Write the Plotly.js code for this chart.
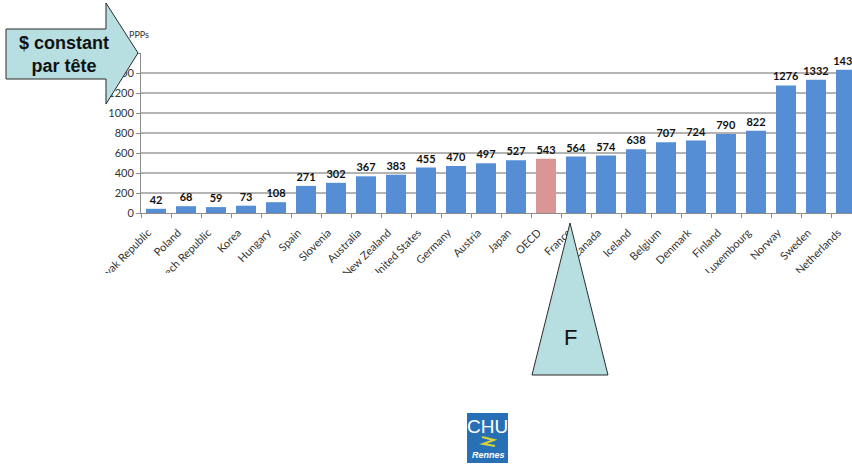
<!DOCTYPE html>
<html>
<head>
<meta charset="utf-8">
<script src="https://cdn.plot.ly/plotly-3.0.1.min.js"></script>
<style>html,body{margin:0;padding:0;background:#fff;}#chart{width:852px;height:464px;}</style>
</head>
<body>
<div id="chart"></div>
<script>
// ---- data ----
const countries = ["Slovak Republic","Poland","Czech Republic","Korea","Hungary","Spain","Slovenia","Australia","New Zealand","United States","Germany","Austria","Japan","OECD","France","Canada","Iceland","Belgium","Denmark","Finland","Luxembourg","Norway","Sweden","Netherlands"];
const values = [42,68,59,73,108,271,302,367,383,455,470,497,527,543,564,574,638,707,724,790,822,1276,1332,1433];
const highlight = "OECD";
const yTicks = [0,200,400,600,800,1000,1200,1400,1600];
const unitLabel = "PPPs";
const arrowText = "$ constant<br>par tête";
const triangleText = "F";

// ---- geometry helpers (pixel -> paper) ----
const L = 141, T = 53, W = 711, H = 160;
const px = x => (x - L) / W;
const py = y => (T + H - y) / H;
function pathOf(pts){
  return pts.map((p,i)=>(i?'L':'M')+px(p[0]).toFixed(5)+','+py(p[1]).toFixed(5)).join(' ')+' Z';
}

const colors = countries.map(c => c === highlight ? '#D99694' : '#558ED5');

const trace = {
  type: 'bar',
  x: countries,
  y: values,
  marker: {color: colors, line: {width: 0}},
  text: values.map(String),
  textposition: 'outside',
  constraintext: 'none',
  cliponaxis: false,
  textfont: {family: 'Lato, "DejaVu Sans", sans-serif', size: 11, color: '#111', weight: 'bold'},
  hoverinfo: 'none'
};

const shapeStyle = {fillcolor: '#B7DEE0', line: {color: '#2b2b2b', width: 1}};

const layout = {
  width: 852, height: 464, autosize: false,
  margin: {l: L, r: 852 - L - W, t: T, b: 464 - T - H, pad: 0},
  paper_bgcolor: '#fff', plot_bgcolor: '#fff',
  showlegend: false,
  bargap: 1/3,
  xaxis: {
    type: 'category',
    range: [-0.5, 23.2],
    showgrid: false,
    showline: true, linecolor: '#8c8c8c', linewidth: 1,
    ticks: 'outside', tickson: 'boundaries', ticklen: 4, tickcolor: '#8c8c8c',
    tickangle: -45,
    ticklabelstandoff: 8,
    ticklabelshift: -8,
    tickfont: {family: 'Lato, "DejaVu Sans", sans-serif', size: 11, color: '#333'},
    fixedrange: true
  },
  yaxis: {
    range: [0, 1600],
    tickvals: yTicks,
    ticktext: yTicks.map(String),
    showgrid: true, gridcolor: '#b4b4b4', gridwidth: 1.3,
    zeroline: false,
    showline: true, linecolor: '#8c8c8c', linewidth: 1,
    ticks: 'outside', ticklen: 4, tickcolor: '#8c8c8c',
    tickfont: {family: 'Lato, "DejaVu Sans", sans-serif', size: 11, color: '#333'},
    fixedrange: true
  },
  shapes: [
    // lower edge of the embedded chart frame (clips the long category labels)
    {type: 'rect', xref: 'paper', yref: 'paper', layer: 'above',
      x0: px(0), x1: px(852), y0: py(300), y1: py(273),
      fillcolor: '#ffffff', line: {width: 0}},
    Object.assign({type: 'path', xref: 'paper', yref: 'paper', layer: 'above',
      path: pathOf([[6,29],[106,29],[106,3],[138,53],[106,104],[106,79],[6,79]])}, shapeStyle),
    Object.assign({type: 'path', xref: 'paper', yref: 'paper', layer: 'above',
      path: pathOf([[570,223],[608,375],[532,375]])}, shapeStyle),
    {type: 'rect', xref: 'paper', yref: 'paper', layer: 'above',
      x0: px(467), x1: px(508), y0: py(413), y1: py(463),
      fillcolor: '#2870b5', line: {width: 0}},
    {type: 'path', xref: 'paper', yref: 'paper', layer: 'above',
      path: 'M'+px(482)+','+py(437)+' L'+px(494)+','+py(440)+' L'+px(483)+','+py(444)+' L'+px(495)+','+py(446),
      line: {color: '#d8d23a', width: 2}}
  ],
  annotations: [
    {xref: 'paper', yref: 'paper', x: px(64), y: py(55), text: arrowText, showarrow: false,
      xanchor: 'center', yanchor: 'middle', align: 'center',
      font: {family: '"Liberation Sans", Arial, sans-serif', size: 18, color: '#111', weight: 'bold'}},
    {xref: 'paper', yref: 'paper', x: px(127), y: py(35), text: unitLabel, showarrow: false,
      xanchor: 'left', yanchor: 'middle',
      font: {family: 'Lato, "DejaVu Sans", sans-serif', size: 9, color: '#333'}},
    {xref: 'paper', yref: 'paper', x: px(570), y: py(337), text: triangleText, showarrow: false,
      xanchor: 'center', yanchor: 'middle',
      font: {family: '"Liberation Sans", Arial, sans-serif', size: 22, color: '#111'}},
    {xref: 'paper', yref: 'paper', x: px(487.5), y: py(426), text: 'CHU', showarrow: false,
      xanchor: 'center', yanchor: 'middle',
      font: {family: '"Liberation Sans Narrow", "Liberation Sans", sans-serif', size: 19, color: '#fff'}},
    {xref: 'paper', yref: 'paper', x: px(488), y: py(455), text: '<i><b>Rennes</b></i>', showarrow: false,
      xanchor: 'center', yanchor: 'middle',
      font: {family: '"Liberation Sans", sans-serif', size: 9, color: '#fff'}}
  ]
};

Plotly.newPlot('chart', [trace], layout, {staticPlot: true, displayModeBar: false});
</script>
</body>
</html>
